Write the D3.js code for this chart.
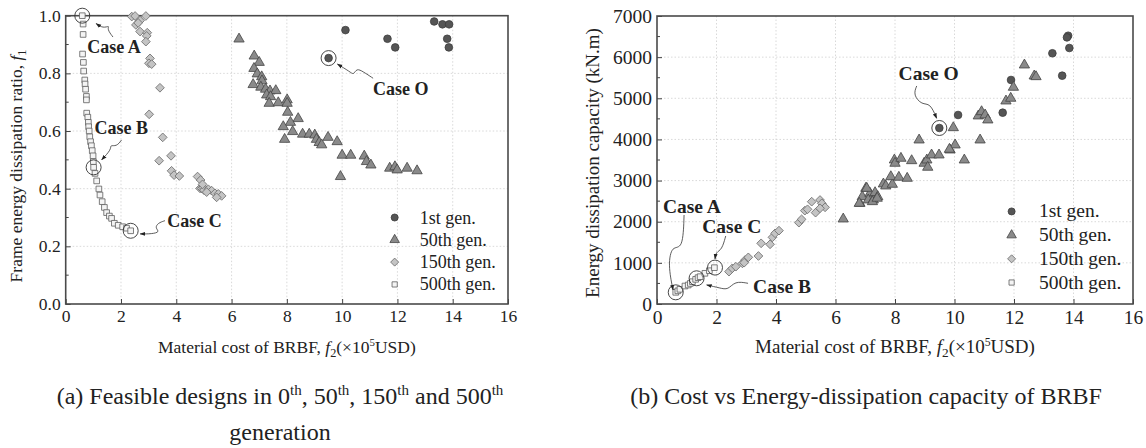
<!DOCTYPE html>
<html>
<head>
<meta charset="utf-8" />
<title>BRBF - feasible designs</title>
<style>
body { margin: 0; background: #fff; }
svg text { font-family: "Liberation Serif", "DejaVu Serif", serif; fill: #222; }
.grid line { stroke: #cfcfcf; stroke-dasharray: 1.5 2; stroke-width: 0.8; }
.axis .domain { display: none; }
.axis .tick line { stroke: #444; }
.case-lbl { font-weight: bold; }
</style>
</head>
<body>
<div id="graph"></div>
<script src="https://d3js.org/d3.v7.min.js"></script>
<script>
// ---- data: [cost f2 (x1e5 USD), value] ----
var xTicks = [0, 2, 4, 6, 8, 10, 12, 14, 16];
var ratioTicks = [0.0, 0.2, 0.4, 0.6, 0.8, 1.0];
var energyTicks = [0, 1000, 2000, 3000, 4000, 5000, 6000, 7000];
var genNames = ["1st gen.", "50th gen.", "150th gen.", "500th gen."];

// (a) cost vs frame energy dissipation ratio f1
var gen1Ratio = [[10.12,0.95],[11.64,0.92],[11.92,0.89],[13.33,0.98],[13.63,0.97],[13.87,0.97],[13.80,0.92],[13.86,0.89],[9.51,0.853]];
var gen50Ratio = [[6.27,0.919],[6.82,0.860],[7.00,0.838],[6.81,0.817],[6.93,0.798],[7.09,0.788],[7.10,0.774],[6.78,0.761],
  [7.06,0.752],[7.23,0.745],[7.39,0.739],[7.60,0.740],[7.27,0.725],[7.41,0.719],[7.36,0.696],[7.69,0.698],[8.01,0.708],
  [8.01,0.696],[8.03,0.665],[8.41,0.643],[8.13,0.630],[7.87,0.615],[8.21,0.598],[7.92,0.571],[8.57,0.589],[8.81,0.589],
  [9.01,0.586],[9.07,0.571],[9.17,0.560],[9.26,0.552],[9.49,0.578],[9.82,0.563],[10.00,0.516],[10.31,0.516],[10.80,0.513],
  [10.88,0.494],[11.04,0.482],[9.94,0.442],[11.72,0.471],[11.91,0.476],[11.99,0.465],[12.35,0.471],[12.71,0.462]];
var gen150Ratio = [[2.39,0.997],[2.51,0.999],[2.69,0.983],[2.90,0.999],[2.54,0.968],[2.62,0.975],[2.69,0.945],[2.95,0.941],
  [2.93,0.930],[2.90,0.910],[3.05,0.852],[3.01,0.835],[3.11,0.832],[3.41,0.750],[3.02,0.658],[3.51,0.578],[3.81,0.514],
  [3.38,0.497],[3.83,0.462],[3.92,0.447],[4.11,0.444],[4.77,0.442],[4.88,0.430],[4.86,0.401],[4.92,0.401],[4.97,0.405],
  [5.00,0.395],[5.16,0.398],[5.28,0.393],[5.40,0.384],[5.52,0.382],[5.64,0.375],[5.46,0.370],[5.10,0.388],[4.95,0.415]];
var gen500Ratio = [[0.60,1.000],[0.63,0.971],[0.63,0.935],[0.61,0.867],[0.64,0.838],[0.65,0.808],[0.69,0.777],[0.70,0.763],
  [0.72,0.745],[0.75,0.720],[0.75,0.708],[0.76,0.662],[0.80,0.648],[0.82,0.630],[0.83,0.615],[0.85,0.600],[0.87,0.580],
  [0.90,0.563],[0.93,0.549],[0.96,0.532],[0.99,0.514],[1.00,0.494],[1.01,0.474],[1.06,0.453],[1.12,0.427],[1.20,0.399],
  [1.24,0.378],[1.32,0.355],[1.40,0.335],[1.48,0.317],[1.58,0.305],[1.66,0.297],[1.76,0.280],[1.90,0.273],[2.06,0.268],
  [2.20,0.263],[2.35,0.254]];

// (b) cost vs energy dissipation capacity (kN.m)
var gen1Energy = [[13.82,6521],[13.78,6480],[13.86,6222],[13.29,6094],[13.62,5549],[11.90,5445],[11.62,4650],[10.12,4594],[9.49,4278]];
var gen50Energy = [[6.26,2066],[6.82,2447],[6.90,2608],[7.02,2812],[7.16,2690],[7.10,2528],[7.27,2528],[7.33,2706],
  [7.42,2608],[7.24,2487],[7.40,2570],[6.80,2447],[7.05,2812],[7.61,2917],[7.69,2868],[7.91,2909],[7.86,3094],[8.13,3080],
  [8.41,3055],[7.98,3500],[8.00,3420],[8.20,3541],[8.56,3483],[8.98,3420],[9.07,3500],[9.10,3323],[9.23,3622],[9.48,3622],
  [9.85,3743],[10.33,3500],[8.81,3986],[10.86,3986],[9.96,4285],[10.02,3865],[9.83,3760],[10.80,4570],[10.91,4674],
  [11.03,4594],[11.12,4473],[11.73,4934],[11.89,5000],[11.98,5267],[12.35,5809],[12.68,5542],[12.74,5525]];
var gen150Energy = [[2.42,786],[2.53,867],[2.65,907],[2.87,988],[2.96,1069],[3.07,1134],[2.93,1004],[3.41,1167],[3.50,1475],
  [3.80,1451],[3.88,1621],[3.97,1718],[4.10,1783],[4.77,1977],[4.86,2058],[4.97,2269],[5.06,2302],[5.20,2487],[5.33,2220],
  [5.48,2528],[5.54,2447],[5.65,2350],[5.48,2326]];
var gen500Energy = [[0.63,284],[0.70,320],[0.77,357],[0.94,437],[1.05,462],[1.12,500],[1.19,542],[1.30,600],[1.38,640],
  [1.45,664],[1.61,746],[1.76,809],[1.93,883]];

// highlighted designs
var casesRatio = [["Case A",[0.60,1.000]],["Case B",[1.01,0.474]],["Case C",[2.35,0.254]],["Case O",[9.51,0.853]]];
var casesEnergy = [["Case A",[0.63,284]],["Case B",[1.33,625]],["Case C",[1.95,885]],["Case O",[9.49,4278]]];

!(function(){
    "use strict"
    var W = 1146, H = 448;
    var svg = d3.select("#graph").append("svg").attr("width", W).attr("height", H);
    svg.append("rect").attr("width", W).attr("height", H).attr("fill", "#fff");

    var defs = svg.append("defs");
    defs.append("marker").attr("id", "arr")
        .attr("viewBox", "0 0 10 10").attr("refX", 9).attr("refY", 5)
        .attr("markerWidth", 7).attr("markerHeight", 7).attr("orient", "auto")
      .append("path").attr("d", "M0,1.5L10,5L0,8.5Z").attr("fill", "#222");

    // annotation layout in data units: label baseline-left and arrow path
    var annRatio = {
        "Case A": { lbl: [0.78, 0.871], path: [[1.71,0.926],[1.49,0.954],[1.60,0.966],[1.35,0.956],[1.10,0.973]] },
        "Case B": { lbl: [1.04, 0.590], path: [[2.02,0.569],[1.84,0.546],[1.60,0.552],[1.66,0.537],[1.30,0.500]] },
        "Case C": { lbl: [3.67, 0.267], path: [[3.59,0.289],[3.34,0.281],[3.23,0.264],[3.41,0.250],[3.12,0.243],[2.69,0.243]] },
        "Case O": { lbl: [11.12, 0.725], path: [[11.12,0.783],[10.76,0.806],[10.52,0.818],[10.42,0.794],[10.28,0.806],[9.83,0.832]] }
    };
    var annEnergy = {
        "Case A": { lbl: [0.20, 2212], path: [[0.91,2163],[0.87,1313],[0.50,1434],[0.37,948],[0.54,340]] },
        "Case B": { lbl: [3.23, 267], path: [[3.06,503],[2.62,559],[2.39,340],[2.12,389],[1.67,462]] },
        "Case C": { lbl: [1.52, 1726], path: [[2.31,1653],[2.18,1313],[1.98,1264],[1.95,1094]] },
        "Case O": { lbl: [8.12, 5445], path: [[8.73,5299],[8.61,5080],[8.91,4837],[9.18,4886],[9.40,4514]] }
    };

    var styles = [
        { sym: d3.symbolCircle,   size: 46, fill: "#555", stroke: "#3c3c3c", rot: 0 },
        { sym: d3.symbolTriangle, size: 46, fill: "#8a8a8a", stroke: "#444", rot: 0 },
        { sym: d3.symbolSquare,   size: 38, fill: "#c4c4c4", stroke: "#6e6e6e", rot: 45 },
        { sym: d3.symbolSquare,   size: 32, fill: "#f4f4f4", stroke: "#5e5e5e", rot: 0 }
    ];

    drawPanel({
        left: 65.7, right: 508, top: 15.7, bottom: 304,
        yDomain: [0, 1], yTicks: ratioTicks, yMinor: d3.range(0.1, 1, 0.2), yFmt: d3.format(".1f"),
        tickFont: 17.5, font: 18, titleFont: 17.5, series: [gen1Ratio, gen50Ratio, gen150Ratio, gen500Ratio],
        cases: casesRatio, ann: annRatio,
        legend: [11.9, 12.81, 0.3, 22.3],
        yTitle: ["Frame energy dissipation ratio, ", "f", "1"], yTitleX: 16, yTitleY: 166
    });
    drawPanel({
        left: 657, right: 1133, top: 16, bottom: 304,
        yDomain: [0, 7000], yTicks: energyTicks, yMinor: d3.range(500, 7000, 1000), yFmt: d3.format("d"),
        tickFont: 19.5, font: 19.5, titleFont: 19, series: [gen1Energy, gen50Energy, gen150Energy, gen500Energy],
        cases: casesEnergy, ann: annEnergy,
        legend: [11.92, 12.84, 2250, 23.7],
        yTitle: ["Energy dissipation capacity (kN.m)"], yTitleX: 592, yTitleY: 163
    });

    // captions
    var cap = svg.append("text").attr("x", 280).attr("y", 404).attr("text-anchor", "middle").attr("font-size", 24);
    cap.append("tspan").text("(a) Feasible designs in 0");
    sup(cap, "th", ", 50");
    sup(cap, "th", ", 150");
    sup(cap, "th", " and 500");
    sup(cap, "th", null);
    svg.append("text").attr("x", 280).attr("y", 440).attr("text-anchor", "middle").attr("font-size", 24).text("generation");
    svg.append("text").attr("x", 866).attr("y", 404).attr("text-anchor", "middle").attr("font-size", 24)
        .text("(b) Cost vs Energy-dissipation capacity of BRBF");

    function sup(t, s, after) {
        t.append("tspan").attr("font-size", 15).attr("dy", -9).text(s);
        if (after) t.append("tspan").attr("dy", 9).text(after);
    }

    function drawPanel(c) {
        var g = svg.append("g");
        var x = d3.scaleLinear().domain([0, 16]).range([c.left, c.right]);
        var y = d3.scaleLinear().domain(c.yDomain).range([c.bottom, c.top]);

        var grid = g.append("g").attr("class", "grid");
        grid.selectAll(".gx").data(xTicks.slice(1, -1)).join("line").attr("class", "gx")
            .attr("x1", d => x(d)).attr("x2", d => x(d)).attr("y1", c.top).attr("y2", c.bottom);
        grid.selectAll(".gy").data(c.yTicks.slice(1, -1)).join("line").attr("class", "gy")
            .attr("y1", d => y(d)).attr("y2", d => y(d)).attr("x1", c.left).attr("x2", c.right);

        g.append("g").attr("class", "axis x")
            .attr("transform", "translate(0," + c.bottom + ")")
            .call(d3.axisBottom(x).tickValues(xTicks).tickSizeInner(-5).tickSizeOuter(0).tickPadding(6).tickFormat(d3.format("d")))
            .selectAll("text").attr("font-size", c.tickFont).attr("fill", "#222");
        g.append("g").attr("class", "axis y")
            .attr("transform", "translate(" + c.left + ",0)")
            .call(d3.axisLeft(y).tickValues(c.yTicks).tickSizeInner(-5).tickSizeOuter(0).tickPadding(5).tickFormat(c.yFmt))
            .selectAll("text").attr("font-size", c.tickFont).attr("fill", "#222");
        g.append("g").selectAll("line").data(c.yMinor).join("line")
            .attr("x1", c.left).attr("x2", c.left + 3).attr("y1", d => y(d)).attr("y2", d => y(d)).attr("stroke", "#444");

        g.append("rect").attr("x", c.left).attr("y", c.top)
            .attr("width", c.right - c.left).attr("height", c.bottom - c.top)
            .attr("fill", "none").attr("stroke", "#4a4a4a").attr("stroke-width", 1.6);

        // points
        c.series.forEach(function(data, i) {
            var s = styles[i];
            g.append("g").selectAll("path").data(data).join("path")
                .attr("d", d3.symbol(s.sym, s.size))
                .attr("transform", d => "translate(" + x(d[0]) + "," + y(d[1]) + ") rotate(" + s.rot + ")")
                .attr("fill", s.fill).attr("stroke", s.stroke).attr("stroke-width", 0.8);
        });

        // case markers and labels
        var line = d3.line().x(d => x(d[0])).y(d => y(d[1])).curve(d3.curveBasis);
        c.cases.forEach(function(cs) {
            var a = c.ann[cs[0]];
            g.append("circle").attr("cx", x(cs[1][0])).attr("cy", y(cs[1][1])).attr("r", 7.5)
                .attr("fill", "none").attr("stroke", "#333").attr("stroke-width", 0.9);
            g.append("path").attr("d", line(a.path)).attr("fill", "none")
                .attr("stroke", "#333").attr("stroke-width", 0.8).attr("marker-end", "url(#arr)");
            g.append("text").attr("class", "case-lbl").attr("x", x(a.lbl[0])).attr("y", y(a.lbl[1]))
                .attr("font-size", c.font).text(cs[0]);
        });

        // legend
        var lg = g.append("g");
        genNames.forEach(function(n, i) {
            var s = styles[i], ly = y(c.legend[2]) + i * c.legend[3];
            lg.append("path").attr("d", d3.symbol(s.sym, s.size * 0.85))
                .attr("transform", "translate(" + x(c.legend[0]) + "," + ly + ") rotate(" + s.rot + ")")
                .attr("fill", s.fill).attr("stroke", s.stroke).attr("stroke-width", 0.8);
            lg.append("text").attr("x", x(c.legend[1])).attr("y", ly + 6).attr("font-size", c.font).text(n);
        });

        // axis titles
        var cx = (c.left + c.right) / 2;
        var f = c.titleFont;
        var xt = g.append("text").attr("x", cx).attr("y", 353).attr("text-anchor", "middle").attr("font-size", f);
        xt.append("tspan").text("Material cost of BRBF, ");
        xt.append("tspan").attr("font-style", "italic").text("f");
        xt.append("tspan").attr("font-size", f * 0.7).attr("dy", 4).text("2");
        xt.append("tspan").attr("dy", -4).text("(\u00d710");
        xt.append("tspan").attr("font-size", f * 0.62).attr("dy", -7).text("5");
        xt.append("tspan").attr("dy", 7).text("USD)");

        var yt = g.append("text").attr("text-anchor", "middle").attr("font-size", f)
            .attr("transform", "translate(" + c.yTitleX + "," + c.yTitleY + ") rotate(-90)")
            .attr("dy", "0.35em");
        yt.append("tspan").text(c.yTitle[0]);
        if (c.yTitle.length > 1) {
            yt.append("tspan").attr("font-style", "italic").text(c.yTitle[1]);
            yt.append("tspan").attr("font-size", f * 0.7).attr("dy", 4).text(c.yTitle[2]);
        }
    }
}());
</script>
</body>
</html>
